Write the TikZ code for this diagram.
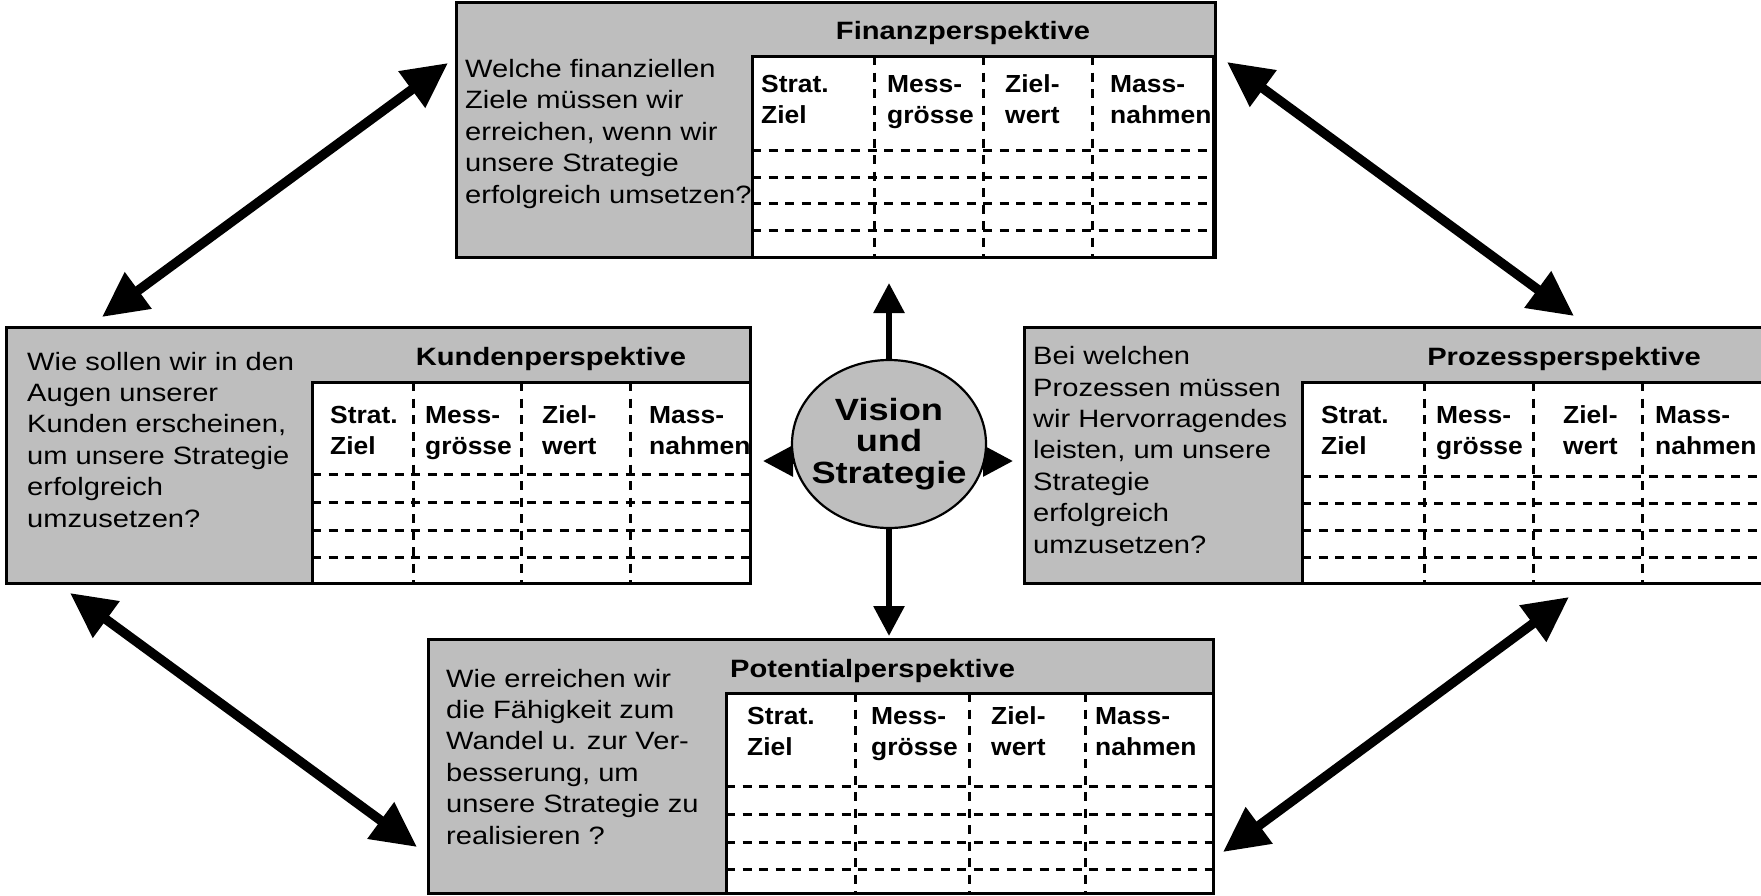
\documentclass[tikz,border=0pt]{standalone}
\usepackage{fontspec}
\setmainfont{Liberation Sans}
\newfontfamily\qfont[FakeStretch=1.16]{Liberation Sans}
\newfontfamily\hfont[FakeStretch=1.07]{Liberation Sans}
\newfontfamily\vfont[FakeStretch=1.18]{Liberation Sans}
\usetikzlibrary{arrows.meta,shapes.geometric,backgrounds}
\definecolor{panelgray}{RGB}{190,190,190}

\begin{document}
% positions are in pixels from the top-left corner; multi-line texts are
% anchored at the baseline of their last line
\begin{tikzpicture}[x=1pt,y=-1pt,
  panel/.style={draw=black, line width=3pt, fill=panelgray, rectangle,
    inner sep=0pt, outer sep=0pt, anchor=north west},
  sheet/.style={draw=black, line width=3pt, fill=white, rectangle,
    inner sep=0pt, outer sep=0pt, anchor=north west},
  rule/.style={line width=3pt, dash pattern=on 9pt off 7.5pt},
  question/.style={anchor=base west, align=left, inner sep=0pt,
    font=\qfont\fontsize{25.1pt}{31.4pt}\selectfont},
  title/.style={anchor=base, inner sep=0pt,
    font=\qfont\bfseries\fontsize{25.1pt}{31.4pt}\selectfont},
  colhead/.style={anchor=base west, align=left, inner sep=0pt,
    font=\hfont\bfseries\fontsize{24.7pt}{31pt}\selectfont},
  core/.style={ellipse, draw=black, line width=2.2pt, fill=panelgray,
    minimum width=194pt, minimum height=168pt, inner sep=0pt},
  coretext/.style={anchor=base, align=center, inner sep=0pt,
    font=\vfont\bfseries\fontsize{30.7pt}{31.3pt}\selectfont},
  bigarrow/.style={line width=9.5pt,
    {Triangle[length=45pt,width=43pt]}-{Triangle[length=45pt,width=43pt]}},
  smallarrow/.style={line width=6pt, -{Triangle[length=30pt,width=30pt]}}
]
\useasboundingbox (0,0) rectangle (1761,895);
\clip (0,0) rectangle (1761,895);

% ---------- Finanzperspektive ----------
\node[panel, minimum width=759pt, minimum height=255pt] (fin) at (456,2) {};
\node[sheet, minimum width=461pt, minimum height=201pt] (fintab) at (752,56) {};
\foreach \x in {874,983,1092} \draw[rule] (\x,56) -- (\x,257);
\foreach \y in {150,177,203,230} \draw[rule] (752,\y) -- (1215,\y);
\node[title] (fintitle) at (963,39) {Finanzperspektive};
\node[question] (finq) at (465,203) {Welche finanziellen\\Ziele müssen wir\\erreichen, wenn wir\\unsere Strategie\\erfolgreich umsetzen?};
\node[colhead] (finc1) at (761,123) {Strat.\\Ziel};
\node[colhead] (finc2) at (887,123) {Mess-\\grösse};
\node[colhead] (finc3) at (1005,123) {Ziel-\\wert};
\node[colhead] (finc4) at (1110,123) {Mass-\\nahmen};

% ---------- Kundenperspektive ----------
\node[panel, minimum width=744pt, minimum height=256pt] (kun) at (6,327) {};
\node[sheet, minimum width=438pt, minimum height=201pt] (kuntab) at (312,382) {};
\foreach \x in {413,521,630} \draw[rule] (\x,382) -- (\x,583);
\foreach \y in {474,502,530,557} \draw[rule] (312,\y) -- (750,\y);
\node[title] (kuntitle) at (551,365) {Kundenperspektive};
\node[question] (kunq) at (27,527) {Wie sollen wir in den\\Augen unserer\\Kunden erscheinen,\\um unsere Strategie\\erfolgreich\\umzusetzen?};
\node[colhead] (kunc1) at (330,454) {Strat.\\Ziel};
\node[colhead] (kunc2) at (425,454) {Mess-\\grösse};
\node[colhead] (kunc3) at (542,454) {Ziel-\\wert};
\node[colhead] (kunc4) at (649,454) {Mass-\\nahmen};

% ---------- Prozessperspektive ----------
\node[panel, minimum width=800pt, minimum height=256pt] (pro) at (1024,327) {};
\node[sheet, minimum width=500pt, minimum height=201pt] (protab) at (1302,382) {};
\foreach \x in {1424,1533,1642} \draw[rule] (\x,382) -- (\x,583);
\foreach \y in {476,503,530,557} \draw[rule] (1302,\y) -- (1800,\y);
\node[title] (protitle) at (1564,365) {Prozessperspektive};
\node[question] (proq) at (1033,553) {Bei welchen\\Prozessen müssen\\wir Hervorragendes\\leisten, um unsere\\Strategie\\erfolgreich\\umzusetzen?};
\node[colhead] (proc1) at (1321,454) {Strat.\\Ziel};
\node[colhead] (proc2) at (1436,454) {Mess-\\grösse};
\node[colhead] (proc3) at (1563,454) {Ziel-\\wert};
\node[colhead] (proc4) at (1655,454) {Mass-\\nahmen};

% ---------- Potentialperspektive ----------
\node[panel, minimum width=785pt, minimum height=254pt] (pot) at (428,639) {};
\node[sheet, minimum width=487pt, minimum height=200pt] (pottab) at (726,693) {};
\foreach \x in {855,969,1085} \draw[rule] (\x,693) -- (\x,893);
\foreach \y in {786,814,842,869} \draw[rule] (726,\y) -- (1213,\y);
\node[title, anchor=base west] (pottitle) at (730,677) {Potentialperspektive};
\node[question] (potq) at (446,844) {Wie erreichen wir\\die Fähigkeit zum\\Wandel u. zur Ver-\\besserung, um\\unsere Strategie zu\\realisieren ?};
\node[colhead] (potc1) at (747,755) {Strat.\\Ziel};
\node[colhead] (potc2) at (871,755) {Mess-\\grösse};
\node[colhead] (potc3) at (991,755) {Ziel-\\wert};
\node[colhead] (potc4) at (1095,755) {Mass-\\nahmen};

% ---------- Vision und Strategie ----------
\node[core] (vs) at (889,444) {};
\node[coretext] (vstext) at (889,483) {Vision\\und\\Strategie};
\coordinate (up) at (889,283);
\coordinate (down) at (889,636);
\coordinate (left) at (763,461);
\coordinate (right) at (1013,461);
\begin{scope}[on background layer]
  \draw[smallarrow] (vs.center) -- (up);
  \draw[smallarrow] (vs.center) -- (down);
  \draw[smallarrow] (vs.center |- left) -- (left);
  \draw[smallarrow] (vs.center |- right) -- (right);
\end{scope}

% ---------- links between the perspectives ----------
\coordinate (finL) at (448,63);
\coordinate (kunT) at (102,317);
\coordinate (finR) at (1227,62);
\coordinate (proT) at (1574,316);
\coordinate (kunB) at (70,593);
\coordinate (potL) at (417,847);
\coordinate (proB) at (1569,597);
\coordinate (potR) at (1223,852);
\draw[bigarrow] (kunT) -- (finL);
\draw[bigarrow] (finR) -- (proT);
\draw[bigarrow] (kunB) -- (potL);
\draw[bigarrow] (potR) -- (proB);
\end{tikzpicture}
\end{document}
